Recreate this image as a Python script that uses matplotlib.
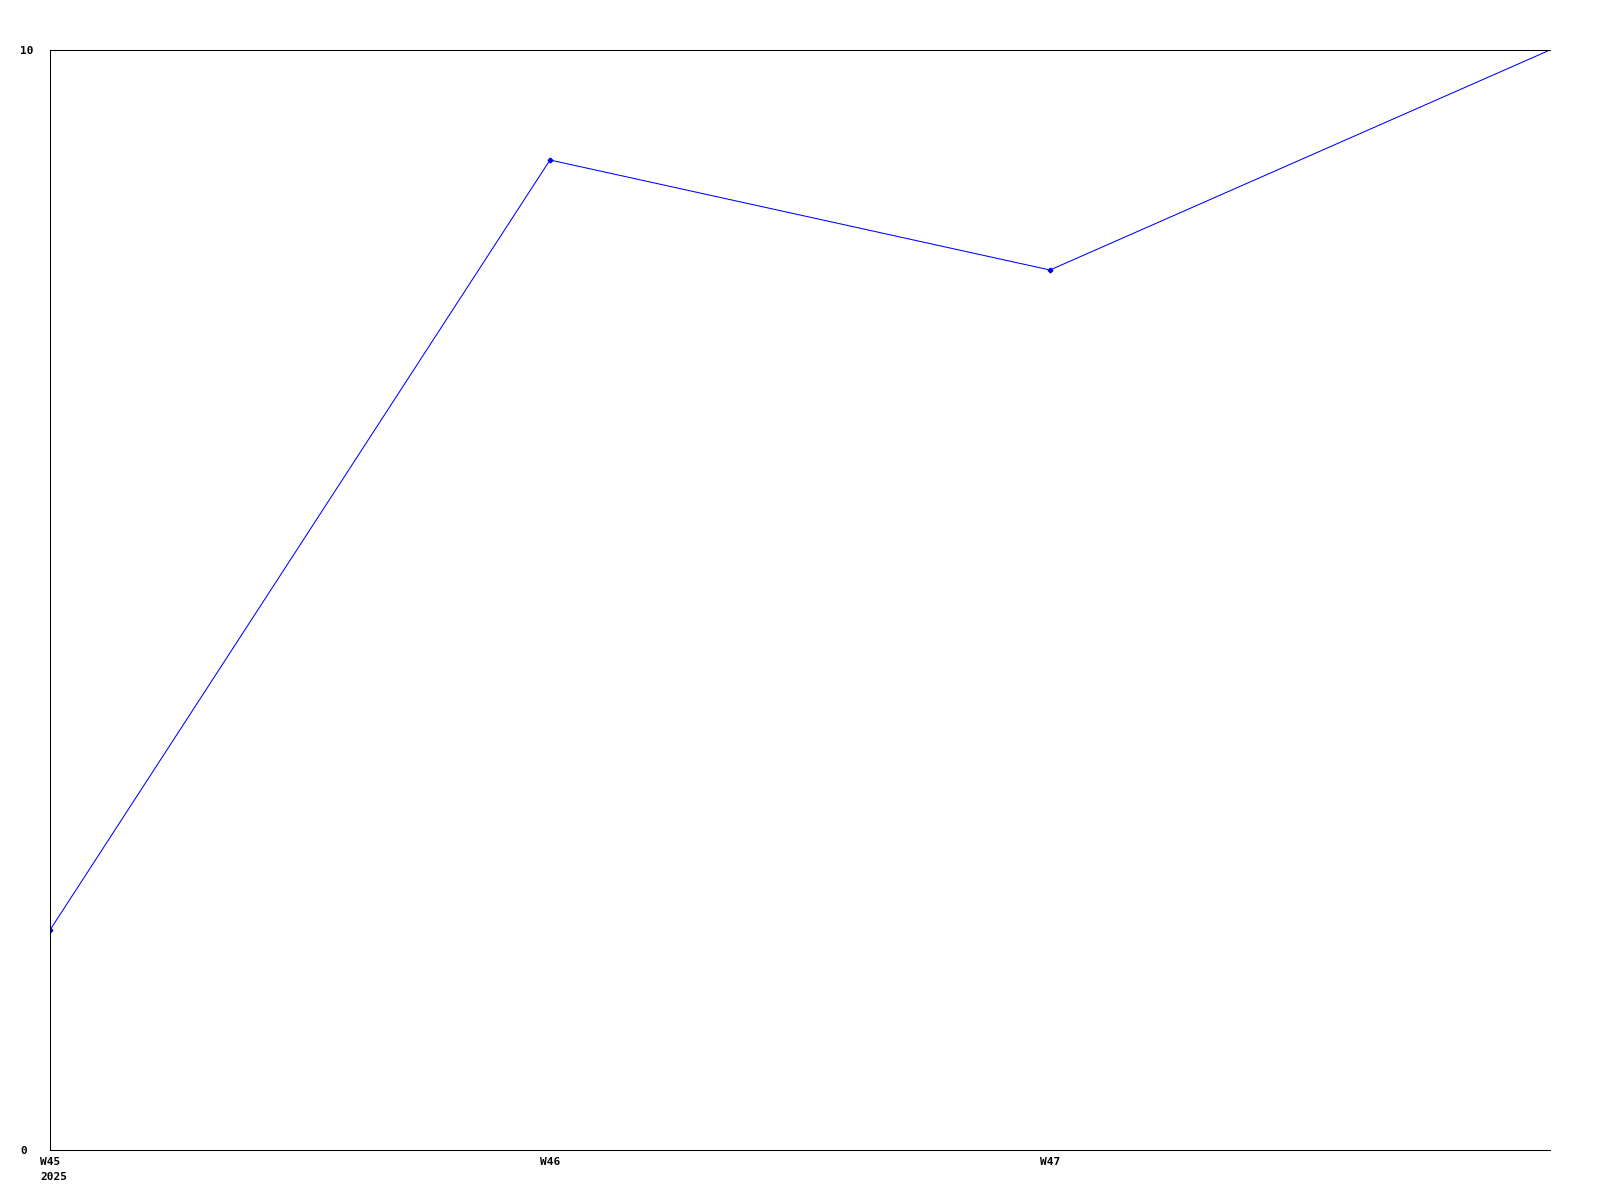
import matplotlib
matplotlib.use("Agg")
import matplotlib.pyplot as plt

# Data
weeks = ["W45", "W46", "W47", "W48"]
values = [2, 9, 8, 10]
year_label = "2025"

x = list(range(len(weeks)))

fig = plt.figure(figsize=(16, 12), dpi=100)
ax = fig.add_axes([50 / 1600, 50 / 1200, 1500 / 1600, 1100 / 1200])

# last point sits on the plot edge and shows no marker in the original
ax.plot(x, values, color="#0000ff", linewidth=0.75, marker="P", markersize=3,
        markevery=list(range(len(weeks) - 1)))

ax.set_xlim(0, len(weeks) - 1)
ax.set_ylim(0, 10)

font = dict(family="DejaVu Sans Mono", weight="bold", size=8)

ax.set_xticks(x[:-1])
ax.set_xticklabels(weeks[:-1], **font)
ax.set_yticks([0, 10])
ax.set_yticklabels(["0", "10"], ha="left", **font)
ax.tick_params(length=0)
ax.tick_params(axis="x", pad=5)
ax.tick_params(axis="y", pad=21.6)

ax.text(-10 / 500, -22 / 1100 * 10, year_label, ha="left", va="top", **font)

ax.spines["right"].set_visible(False)
for s in ["left", "top", "bottom"]:
    ax.spines[s].set_linewidth(0.75)
    ax.spines[s].set_color("black")

fig.savefig("out.png", dpi=100)
